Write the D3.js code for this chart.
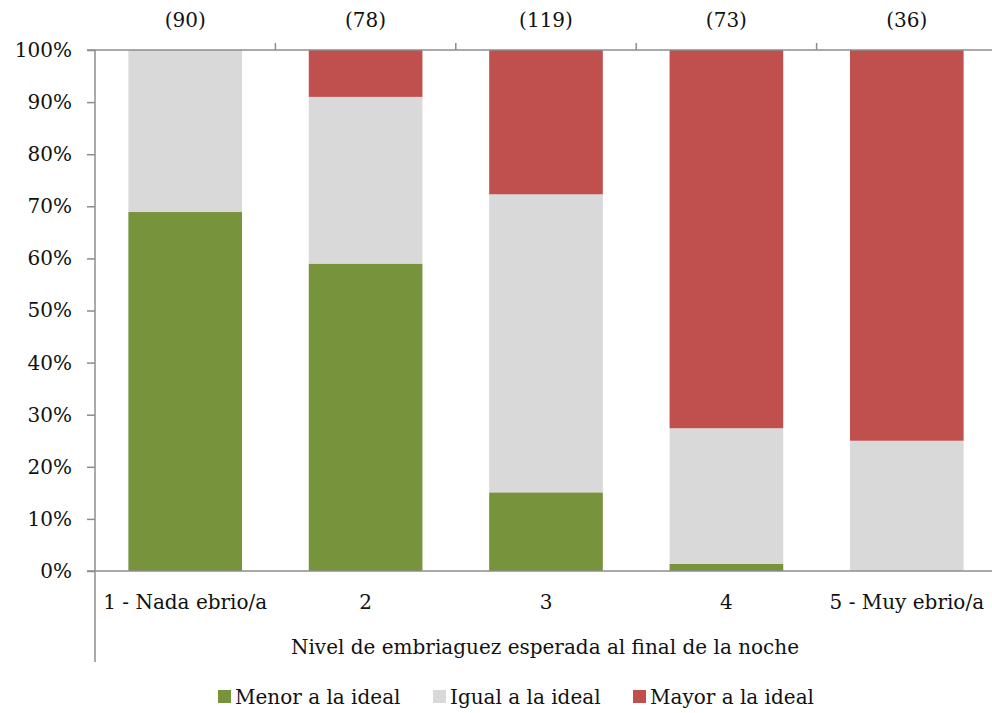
<!DOCTYPE html>
<html>
<head>
    <meta charset="utf-8" />
    <title>Nivel de embriaguez</title>
    <script src="https://cdn.jsdelivr.net/npm/d3@7"></script>
    <style>
        body { margin: 0; background: #fff; }
        text { font-family: "DejaVu Serif", serif; fill: #111; }
    </style>
</head>
<body>
<script>
    // data (percent of each group)
    var categories = ["1 - Nada ebrio/a", "2", "3", "4", "5 - Muy ebrio/a"]
    var counts = ["(90)", "(78)", "(119)", "(73)", "(36)"]
    var menor = [68.9, 59.0, 15.1, 1.4, 0]
    var igual = [31.1, 32.0, 57.2, 26.0, 25.0]
    var mayor = [0, 9.0, 27.7, 72.6, 75.0]
    var seriesNames = ["Menor a la ideal", "Igual a la ideal", "Mayor a la ideal"]
    var seriesColors = ["#77933C", "#D9D9D9", "#C0504D"]
    var yTicks = [0, 10, 20, 30, 40, 50, 60, 70, 80, 90, 100]

    var W = 992, H = 713
    var mLeft = 95, mRight = 997, mTop = 50, mBottom = 571
    var axisColor = "#8c8c8c"
    var fontSize = 20
    var fontFam = "DejaVu Serif"

    var svg = d3.select("body").append("svg").attr("width", W).attr("height", H)

    var x = d3.scaleBand().domain(categories).range([mLeft, mRight]).paddingInner(0.37).paddingOuter(0.185)
    var x0 = d3.scaleBand().domain(categories).range([mLeft, mRight])
    var y = d3.scaleLinear().domain([0, 100]).range([mBottom, mTop])

    var table = categories.map(function (c, i) {
        return { cat: c, menor: menor[i], igual: igual[i], mayor: mayor[i] }
    })
    var stack = d3.stack().keys(["menor", "igual", "mayor"])(table)

    svg.selectAll(".layer").data(stack).enter().append("g")
        .attr("fill", function (d, i) { return seriesColors[i] })
        .selectAll("rect").data(function (d) { return d }).enter().append("rect")
        .attr("x", function (d) { return x(d.data.cat) })
        .attr("width", x.bandwidth())
        .attr("y", function (d) { return y(d[1]) })
        .attr("height", function (d) { return y(d[0]) - y(d[1]) })

    // left axis
    var yAxis = svg.append("g").attr("transform", "translate(" + mLeft + ",0)")
        .call(d3.axisLeft(y).tickValues(yTicks).tickSize(8).tickFormat(function (d) { return d + "%" }))
    yAxis.select(".domain").remove()
    yAxis.selectAll("line").attr("stroke", axisColor).attr("stroke-width", 1.5)
    yAxis.selectAll("text").attr("font-size", fontSize).attr("x", -23)
        .style("font-family", fontFam).attr("fill", "#111")
    svg.append("line").attr("x1", mLeft).attr("x2", mLeft).attr("y1", mTop).attr("y2", 662)
        .attr("stroke", axisColor).attr("stroke-width", 1.5)

    // top and bottom lines
    svg.append("line").attr("x1", mLeft - 8).attr("x2", W).attr("y1", mTop).attr("y2", mTop)
        .attr("stroke", axisColor).attr("stroke-width", 1.5)
    svg.append("line").attr("x1", mLeft - 8).attr("x2", W).attr("y1", mBottom).attr("y2", mBottom)
        .attr("stroke", axisColor).attr("stroke-width", 1.5)

    // top axis with counts
    var topAxis = svg.append("g").attr("transform", "translate(0," + mTop + ")")
        .call(d3.axisTop(x0).tickSize(0).tickFormat(function (d, i) { return counts[i] }))
    topAxis.select(".domain").remove()
    topAxis.selectAll("text").attr("font-size", fontSize).attr("y", -23)
        .style("font-family", fontFam).attr("fill", "#111")
    svg.selectAll(".sep").data(categories.slice(1)).enter().append("line")
        .attr("x1", function (d) { return x0(d) }).attr("x2", function (d) { return x0(d) })
        .attr("y1", mTop - 7).attr("y2", mTop).attr("stroke", axisColor).attr("stroke-width", 1.5)

    // bottom category labels
    var xAxis = svg.append("g").attr("transform", "translate(0," + mBottom + ")")
        .call(d3.axisBottom(x0).tickSize(0))
    xAxis.select(".domain").remove()
    xAxis.selectAll("text").attr("font-size", fontSize).attr("y", 24)
        .style("font-family", fontFam).attr("fill", "#111")

    svg.append("text").attr("x", 545).attr("y", 654).attr("text-anchor", "middle")
        .attr("font-size", fontSize).text("Nivel de embriaguez esperada al final de la noche")

    // legend
    var legendX = [218, 433, 633]
    var legend = svg.selectAll(".legend").data(seriesNames).enter().append("g")
        .attr("transform", function (d, i) { return "translate(" + legendX[i] + ",690)" })
    legend.append("rect").attr("width", 13).attr("height", 13)
        .attr("fill", function (d, i) { return seriesColors[i] })
    legend.append("text").attr("x", 17).attr("y", 14).attr("font-size", fontSize).text(function (d) { return d })
</script>
</body>
</html>
